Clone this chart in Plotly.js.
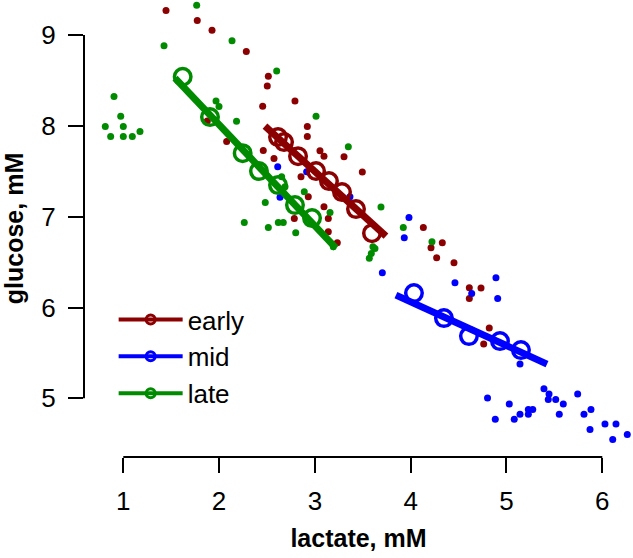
<!DOCTYPE html>
<html>
<head>
<meta charset="utf-8">
<script src="https://cdn.plot.ly/plotly-3.0.1.min.js"></script>
<style>html,body{margin:0;padding:0;background:#fff;}#chart{width:633px;height:558px;}</style>
</head>
<body>
<div id="chart"></div>
<script>
// ---- data (lactate mM, glucose mM) ----
var groupNames = ["early", "mid", "late"];
var groupColors = ["#8B0000", "#0000FF", "#008B00"];

// raw samples
var earlyLac = [1.446,1.772,1.926,2.284,2.514,2.503,2.792,2.455,1.877,2.079,2.461,2.573,2.921,2.921,3.053,3.095,3.304,3.495,2.855,2.931,3.095,3.140,2.785,3.234,3.140,4.132,4.330,4.212,4.271,4.452,4.612,4.734,4.612,4.820,4.762];
var earlyGlu = [9.272,9.162,9.052,8.820,8.548,8.438,8.273,8.215,8.053,7.827,7.730,7.642,7.994,7.884,7.726,7.667,7.660,7.491,7.439,7.219,7.109,6.981,6.981,6.713,6.834,6.882,6.713,6.657,6.547,6.492,6.217,6.214,6.100,5.773,5.597];

var midLac = [2.612,2.636,2.914,3.366,3.982,3.933,3.704,4.462,4.637,4.890,4.908,5.141,4.802,4.883,5.029,5.081,5.141,5.228,5.274,5.228,5.391,5.444,5.436,5.514,5.593,5.551,5.743,5.809,5.882,5.872,6.028,6.143,6.109,6.261];
var midGlu = [7.550,7.213,7.494,7.219,6.992,6.768,6.382,6.272,6.155,6.327,6.100,5.377,5.002,4.768,4.936,4.768,4.823,4.878,4.878,4.823,5.105,5.046,4.988,4.988,4.936,4.823,5.046,4.823,4.878,4.657,4.716,4.716,4.547,4.602];

var lateLac = [1.766,1.425,2.135,2.601,0.903,0.973,0.812,1.000,1.174,0.868,1.000,1.094,1.968,1.999,2.182,3.012,3.349,3.690,2.653,2.688,2.482,2.263,2.514,2.618,2.670,2.800,2.889,3.158,3.192,3.606,3.923,4.222,3.568,3.589,3.627];
var lateGlu = [9.330,8.882,8.937,8.604,8.325,8.105,7.994,7.994,7.939,7.884,7.884,7.884,8.273,8.213,8.050,8.105,7.770,7.106,7.439,7.329,7.157,6.937,6.882,6.937,6.937,6.823,7.274,7.047,6.668,6.668,6.882,6.724,6.541,6.596,6.651];

// binned means (open circles)
var earlyMeanLac = [2.615,2.678,2.824,3.012,3.147,3.283,3.429,3.596];
var earlyMeanGlu = [7.877,7.822,7.667,7.502,7.392,7.271,7.084,6.819];
var midMeanLac = [4.034,4.347,4.608,4.932,5.151];
var midMeanGlu = [6.159,5.883,5.685,5.630,5.531];
var lateMeanLac = [1.620,1.905,2.246,2.416,2.615,2.792,2.970];
var lateMeanGlu = [8.541,8.097,7.700,7.502,7.348,7.128,6.985];

// fitted lines (start, end)
var earlyFitLac = [2.479,3.742];
var earlyFitGlu = [7.998,6.786];
var midFitLac = [3.846,5.423];
var midFitGlu = [6.137,5.377];
var lateFitLac = [1.540,3.220];
var lateFitGlu = [8.526,6.654];

// axes
var xTicks = [1,2,3,4,5,6];
var yTicks = [5,6,7,8,9];
var xTitle = "lactate, mM";
var yTitle = "glucose, mM";

// ---- build traces ----
var rawLac = [earlyLac, midLac, lateLac];
var rawGlu = [earlyGlu, midGlu, lateGlu];
var meanLac = [earlyMeanLac, midMeanLac, lateMeanLac];
var meanGlu = [earlyMeanGlu, midMeanGlu, lateMeanGlu];
var fitLac = [earlyFitLac, midFitLac, lateFitLac];
var fitGlu = [earlyFitGlu, midFitGlu, lateFitGlu];

var traces = [];
for (var i = 0; i < 3; i++) {
  traces.push({
    type: "scatter", mode: "markers", x: rawLac[i], y: rawGlu[i],
    marker: {color: groupColors[i], size: 7}, showlegend: false,
    cliponaxis: false, hoverinfo: "x+y", name: groupNames[i]
  });
}
for (var i = 0; i < 3; i++) {
  traces.push({
    type: "scatter", mode: "lines", x: fitLac[i], y: fitGlu[i],
    line: {color: groupColors[i], width: 7}, showlegend: false,
    cliponaxis: false, name: groupNames[i]
  });
  traces.push({
    type: "scatter", mode: "markers", x: meanLac[i], y: meanGlu[i],
    marker: {color: groupColors[i], size: 16.5, symbol: "circle-open", line: {width: 3.5, color: groupColors[i]}},
    showlegend: false, cliponaxis: false, name: groupNames[i]
  });
}
// legend entries
for (var i = 0; i < 3; i++) {
  traces.push({
    type: "scatter", mode: "lines+markers", x: [null], y: [null],
    name: groupNames[i],
    line: {color: groupColors[i], width: 4},
    marker: {color: groupColors[i], size: 9, symbol: "circle-open", line: {width: 3, color: groupColors[i]}}
  });
}

var font = "Liberation Sans, Arial, sans-serif";
var layout = {
  width: 633, height: 558,
  margin: {l: 84, r: 0, t: 0, b: 101, pad: 0},
  paper_bgcolor: "#fff", plot_bgcolor: "#fff",
  font: {family: font, size: 26, color: "#000"},
  showlegend: true,
  legend: {
    x: 0.054, y: 0.352, xanchor: "left", yanchor: "top",
    bgcolor: "rgba(0,0,0,0)", borderwidth: 0,
    font: {family: font, size: 26, color: "#000"},
    itemwidth: 64, tracegroupgap: 0
  },
  xaxis: {
    range: [0.5898, 6.3206], tickvals: xTicks, ticktext: xTicks.map(String),
    ticks: "outside", ticklen: 15, tickwidth: 2, tickcolor: "#000",
    showline: false, showgrid: false, zeroline: false,
    ticklabelstandoff: 6,
    tickfont: {family: font, size: 26, color: "#000"},
    title: {text: xTitle, font: {family: font, size: 25, weight: "bold", color: "#000"}, standoff: 14}
  },
  yaxis: {
    range: [4.3535, 9.3865], tickvals: yTicks, ticktext: yTicks.map(String),
    ticks: "outside", ticklen: 15, tickwidth: 2, tickcolor: "#000",
    showline: false, showgrid: false, zeroline: false,
    ticklabelstandoff: 7,
    tickfont: {family: font, size: 26, color: "#000"},
    title: {text: yTitle, font: {family: font, size: 25, weight: "bold", color: "#000"}, standoff: 10}
  },
  shapes: [
    {type: "line", xref: "x", yref: "paper", x0: xTicks[0], x1: xTicks[xTicks.length-1], y0: 0, y1: 0, line: {color: "#000", width: 2}},
    {type: "line", xref: "paper", yref: "y", x0: 0, x1: 0, y0: yTicks[0], y1: yTicks[yTicks.length-1], line: {color: "#000", width: 2}}
  ]
};

Plotly.newPlot("chart", traces, layout, {displayModeBar: false, staticPlot: true});
</script>
</body>
</html>
